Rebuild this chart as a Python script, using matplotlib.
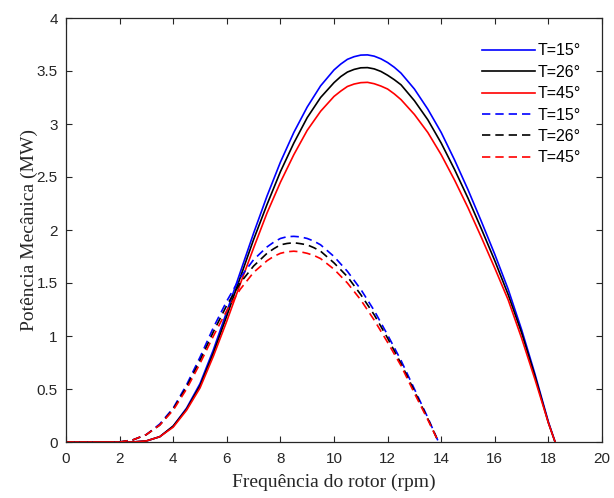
"""
plot.py

Potência mecânica em função da frequência do rotor para três temperaturas
(curvas contínuas: vento maior, curvas tracejadas: vento menor).

Saída:
- out.png
"""

import matplotlib
matplotlib.use("Agg")
import matplotlib.pyplot as plt


OUTPUT = "out.png"

LABELS = ["T=15°", "T=26°", "T=45°"]
COLORS = ["#0000ff", "#000000", "#ff0000"]

# Curvas contínuas
RPM_SOLID = [0.0, 2.5, 3.0, 3.5, 4.0, 4.5, 5.0, 5.5, 6.0, 6.5, 7.0, 7.5, 8.0,
             8.5, 9.0, 9.5, 10.0, 10.25, 10.5, 10.75, 11.0, 11.25, 11.5,
             11.75, 12.0, 12.25, 12.5, 13.0, 13.5, 14.0, 14.5, 15.0, 15.5,
             16.0, 16.5, 17.0, 17.5, 18.0, 18.25, 18.5]
P_SOLID_15 = [0.0, 0.0, 0.01, 0.05, 0.15, 0.32, 0.55, 0.87, 1.23, 1.60, 1.97,
              2.32, 2.64, 2.92, 3.16, 3.36, 3.51, 3.565, 3.61, 3.635, 3.65,
              3.652, 3.64, 3.615, 3.58, 3.535, 3.48, 3.33, 3.14, 2.92, 2.66,
              2.38, 2.08, 1.77, 1.44, 1.06, 0.64, 0.19, 0.0, -0.22]
P_SOLID_26 = [0.0, 0.0, 0.01, 0.05, 0.15, 0.31, 0.53, 0.84, 1.19, 1.55, 1.91,
              2.24, 2.55, 2.82, 3.06, 3.25, 3.39, 3.447, 3.49, 3.515, 3.53,
              3.532, 3.52, 3.496, 3.46, 3.418, 3.37, 3.22, 3.04, 2.82, 2.57,
              2.30, 2.01, 1.71, 1.39, 1.03, 0.62, 0.18, 0.0, -0.21]
P_SOLID_45 = [0.0, 0.0, 0.01, 0.05, 0.14, 0.30, 0.51, 0.81, 1.14, 1.49, 1.83,
              2.16, 2.45, 2.71, 2.94, 3.12, 3.26, 3.31, 3.354, 3.377, 3.39,
              3.393, 3.38, 3.358, 3.33, 3.284, 3.23, 3.09, 2.92, 2.71, 2.47,
              2.21, 1.93, 1.64, 1.34, 0.98, 0.59, 0.18, 0.0, -0.2]

# Curvas tracejadas
RPM_DASHED = [0.0, 2.0, 2.5, 3.0, 3.5, 4.0, 4.5, 5.0, 5.5, 6.0, 6.5, 7.0,
              7.5, 7.75, 8.0, 8.25, 8.5, 8.75, 9.0, 9.25, 9.5, 10.0, 10.5,
              11.0, 11.5, 12.0, 12.5, 13.0, 13.5, 13.9, 14.2]
P_DASHED_15 = [0.0, 0.0, 0.02, 0.07, 0.17, 0.32, 0.54, 0.80, 1.08, 1.33,
               1.55, 1.72, 1.84, 1.885, 1.92, 1.937, 1.94, 1.935, 1.92, 1.895,
               1.86, 1.75, 1.61, 1.44, 1.24, 1.01, 0.77, 0.50, 0.23, 0.0, -0.2]
P_DASHED_26 = [0.0, 0.0, 0.02, 0.07, 0.16, 0.31, 0.52, 0.77, 1.04, 1.29,
               1.50, 1.66, 1.78, 1.823, 1.86, 1.873, 1.88, 1.871, 1.86, 1.833,
               1.80, 1.69, 1.56, 1.39, 1.20, 0.98, 0.74, 0.48, 0.22, 0.0, -0.2]
P_DASHED_45 = [0.0, 0.0, 0.02, 0.07, 0.16, 0.30, 0.50, 0.74, 1.00, 1.24,
               1.44, 1.60, 1.71, 1.751, 1.78, 1.795, 1.80, 1.794, 1.78, 1.76,
               1.73, 1.63, 1.50, 1.34, 1.15, 0.94, 0.72, 0.46, 0.21, 0.0, -0.2]

X_TICKS = [0, 2, 4, 6, 8, 10, 12, 14, 16, 18, 20]
Y_TICKS = [0, 0.5, 1, 1.5, 2, 2.5, 3, 3.5, 4]
Y_TICK_LABELS = ["0", "0.5", "1", "1.5", "2", "2.5", "3", "3.5", "4"]

AXIS_COLOR = "#262626"


def plot_curves() -> None:
    plt.rcParams["font.family"] = ["Liberation Sans", "DejaVu Sans"]

    fig = plt.figure(figsize=(6.14, 4.98), dpi=100)
    ax = fig.add_axes([66 / 614, 56 / 498, 536 / 614, 424 / 498])

    solid = [P_SOLID_15, P_SOLID_26, P_SOLID_45]
    dashed = [P_DASHED_15, P_DASHED_26, P_DASHED_45]

    for values, color, label in zip(solid, COLORS, LABELS):
        ax.plot(RPM_SOLID, values, color=color, linewidth=1.2, label=label)
    for values, color, label in zip(dashed, COLORS, LABELS):
        ax.plot(RPM_DASHED, values, color=color, linewidth=1.2,
                dashes=(5, 3), label=label)

    ax.set_xlim(0, 20)
    ax.set_ylim(0, 4)
    ax.set_xticks(X_TICKS)
    ax.set_yticks(Y_TICKS)
    ax.set_yticklabels(Y_TICK_LABELS)

    ax.tick_params(direction="in", length=4.5, width=0.8, colors=AXIS_COLOR,
                   labelsize=11, top=True, right=True)
    ax.tick_params(axis="x", pad=7)
    ax.tick_params(axis="y", pad=6)
    for spine in ax.spines.values():
        spine.set_color(AXIS_COLOR)
        spine.set_linewidth(0.9)

    ax.set_xlabel("Frequência do rotor (rpm)", family="Liberation Serif",
                  fontsize=14, color=AXIS_COLOR, labelpad=6)
    ax.set_ylabel("Potência Mecânica (MW)", family="Liberation Serif",
                  fontsize=14, color=AXIS_COLOR, labelpad=-1)

    ax.legend(loc="upper right", bbox_to_anchor=(0.96, 0.94), frameon=False,
              fontsize=11.5, handlelength=3.3, handletextpad=0.15,
              labelspacing=0.4, borderpad=0, borderaxespad=0)

    fig.savefig(OUTPUT, dpi=100)
    plt.close(fig)


def main() -> None:
    plot_curves()


if __name__ == "__main__":
    main()
